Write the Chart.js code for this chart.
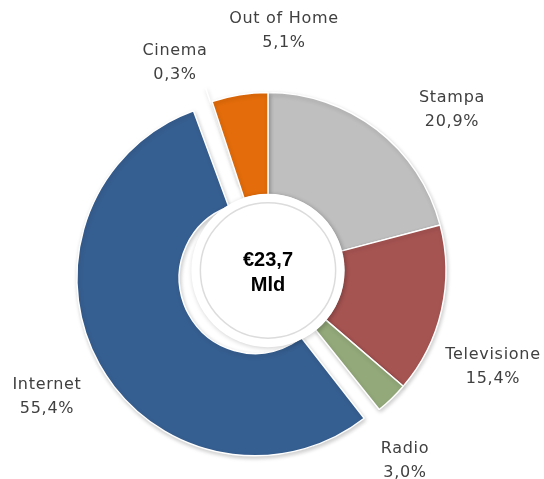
<!DOCTYPE html>
<html>
<head>
<meta charset="utf-8">
<script src="https://cdn.jsdelivr.net/npm/chart.js@4/dist/chart.umd.min.js"></script>
<style>
html,body{margin:0;padding:0;background:#fff;}
#wrap{width:544px;height:479px;position:relative;}
</style>
</head>
<body>
<div id="wrap"><canvas id="c" width="544" height="479"></canvas></div>
<script>
// ---- data ----
const categories = ["Stampa", "Televisione", "Radio", "Internet", "Cinema", "Out of Home"];
const shares = [20.9, 15.4, 3.0, 55.4, 0.3, 5.1];
const shareLabels = ["20,9%", "15,4%", "3,0%", "55,4%", "0,3%", "5,1%"];
const centerLines = ["€23,7", "Mld"];

// ---- styling / layout ----
const colors = ["#bfbfbf", "#a65452", "#93a97a", "#365f91", "#eef2f8", "#e46c0a"];
const explodePx = [0, 0, 0, 15, 15, 0];           // pure shift of exploded slices
// label block centres relative to the doughnut centre
const labelOffsets = [[184, -161], [225, 96], [137, 190], [-221, 126], [-93, -208], [16, -240]];

// Chart.js v4 shifts an arc by offset/4 and also grows its radii; undo the radius growth
const explodeFix = {
  id: 'explodeFix',
  afterDatasetUpdate(chart, args) {
    const meta = args.meta;
    meta.data.forEach((arc, i) => {
      const o = (explodePx[i] || 0);
      if (!o) return;
      const circ = arc.circumference;
      const fix = 1 - Math.sin(Math.min(Math.PI, circ || 0));
      const r = o * fix;
      arc.outerRadius -= r;
      arc.innerRadius -= r;
    });
  }
};

const centerPlugin = {
  id: 'centerPlugin',
  beforeDatasetsDraw(chart) {
    const ctx = chart.ctx;
    ctx.save();
    ctx.shadowColor = 'rgba(0,0,0,0.2)';
    ctx.shadowBlur = 4;
    ctx.shadowOffsetX = 1;
    ctx.shadowOffsetY = 2;
  },
  afterDatasetsDraw(chart) {
    const ctx = chart.ctx;
    ctx.restore();
    const meta = chart.getDatasetMeta(0);
    const a = meta.data[0];
    const cx = a.x, cy = a.y, ir = a.innerRadius;
    ctx.save();
    ctx.beginPath();
    ctx.arc(cx, cy, ir + 1, 0, Math.PI * 2);
    ctx.fillStyle = '#ffffff';
    ctx.shadowColor = 'rgba(0,0,0,0.2)';
    ctx.shadowBlur = 5;
    ctx.shadowOffsetX = 1;
    ctx.shadowOffsetY = 1;
    ctx.fill();
    ctx.restore();
    ctx.save();
    ctx.beginPath();
    ctx.arc(cx, cy, ir - 8, 0, Math.PI * 2);
    ctx.fillStyle = '#ffffff';
    ctx.fill();
    ctx.lineWidth = 1.5;
    ctx.strokeStyle = '#dcdcdc';
    ctx.stroke();
    // centre text
    ctx.fillStyle = '#000000';
    ctx.font = 'bold 20px "Liberation Sans", Arial, sans-serif';
    ctx.textAlign = 'center';
    ctx.textBaseline = 'middle';
    ctx.fillText(centerLines[0], cx, cy - 10);
    ctx.fillText(centerLines[1], cx, cy + 15);
    // outside labels
    ctx.fillStyle = '#404040';
    ctx.font = '16px "DejaVu Sans", sans-serif';
    try { ctx.letterSpacing = '0.7px'; } catch (e) {}
    categories.forEach((name, i) => {
      const lx = cx + labelOffsets[i][0];
      const ly = cy + labelOffsets[i][1];
      ctx.fillText(name, lx, ly - 12);
      ctx.fillText(shareLabels[i], lx, ly + 12);
    });
    ctx.restore();
  }
};

new Chart(document.getElementById('c'), {
  type: 'doughnut',
  data: {
    labels: categories,
    datasets: [{
      data: shares,
      backgroundColor: colors,
      borderColor: '#ffffff',
      borderWidth: 1.5,
      offset: explodePx.map(v => v * 4),
      hoverOffset: 0
    }]
  },
  options: {
    responsive: false,
    animation: false,
    radius: 178,
    cutout: '42.5%',
    layout: { padding: { left: 0, right: 8, top: 62, bottom: 0 } },
    plugins: {
      legend: { display: false },
      tooltip: { enabled: false }
    },
    events: []
  },
  plugins: [explodeFix, centerPlugin]
});
</script>
</body>
</html>
